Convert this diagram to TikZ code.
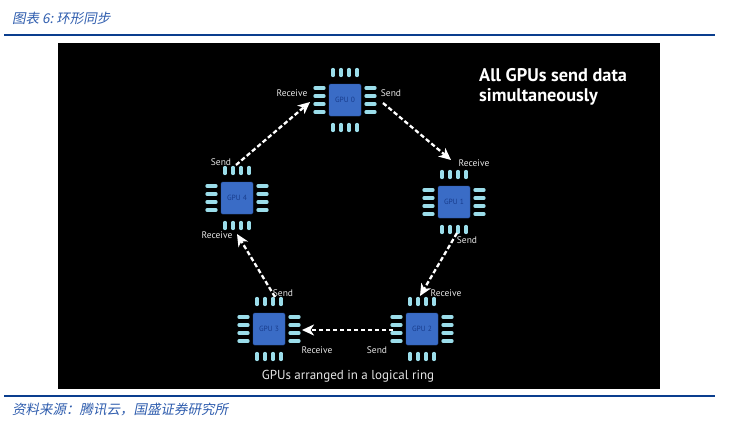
\documentclass[tikz,border=0pt]{standalone}
\usepackage{fontspec}
\setmainfont{PT Sans}
\newfontfamily\cjk[FakeSlant=0.2]{Noto Sans CJK SC}
\usepackage{tikz}
\usetikzlibrary{arrows.meta}
\pgfdeclarelayer{background}
\pgfdeclarelayer{foreground}
\pgfsetlayers{background,main,foreground}
\definecolor{hdline}{HTML}{0A3E8E}
\definecolor{hdtext}{HTML}{2F5DAE}
\definecolor{chipblue}{HTML}{3A6CC6}
\definecolor{chipedge}{HTML}{2B56A6}
\definecolor{chiptext}{HTML}{183C8C}
\definecolor{pincyan}{HTML}{9BDDEA}
\definecolor{lbltext}{HTML}{E6E6E6}

\begin{document}
\begin{tikzpicture}[x=1pt,y=-1pt,
  chip/.style={draw=chipedge,fill=chipblue,rounded corners=1.5pt,minimum size=32pt,inner sep=0pt,text=chiptext,font=\fontsize{7.5}{8}\selectfont},
  pin/.style={draw=pincyan,line width=3.3pt,line cap=round},
  lbl/.style={text=lbltext,inner sep=0pt,font=\fontsize{9.5}{10}\selectfont},
  ring/.style={draw=white,line width=2.3pt,dash pattern=on 4.5pt off 2.5pt,-{Stealth[length=12pt,width=11pt,inset=3.5pt]}}]
\useasboundingbox (0,0) rectangle (740,424);
\begin{pgfonlayer}{background}
\fill[white] (0,0) rectangle (740,424);
\fill[black] (58,43) rectangle (660,389);
\end{pgfonlayer}
\node[anchor=west,inner sep=0pt,text=hdtext,font=\cjk\fontsize{13.5}{14}\selectfont] (title) at (12,18) {图表 6:\ 环形同步};
\draw[hdline,line width=2.6pt] (4,35) -- (715,35);
\draw[hdline,line width=2.6pt] (4,396) -- (715,396);
\node[anchor=west,inner sep=0pt,text=hdtext,font=\cjk\fontsize{13.5}{14}\selectfont] (source) at (12,409) {资料来源：腾讯云，国盛证券研究所};
\foreach \c/\x/\y in {0/345/100,1/454/202,2/422/329,3/269/329,4/237/198} {
  \node[chip] (gpu\c) at (\x,\y) {GPU \c};
  \foreach \o in {-12,-4,4,12} {
    \draw[pin] ([shift={(\o,-30.5)}]gpu\c.center) -- ++(0,6);
    \draw[pin] ([shift={(\o,24.5)}]gpu\c.center) -- ++(0,6);
    \draw[pin] ([shift={(-30,\o)}]gpu\c.center) -- ++(9,0);
    \draw[pin] ([shift={(21,\o)}]gpu\c.center) -- ++(9,0);
  }
}
\node[lbl] (recv0) at (292,93) {Receive};
\node[lbl] (send0) at (391,93) {Send};
\node[lbl] (recv1) at (474,163) {Receive};
\node[lbl] (send1) at (467,240) {Send};
\node[lbl] (recv2) at (446,293) {Receive};
\node[lbl] (send2) at (377,350) {Send};
\node[lbl] (recv3) at (317,350) {Receive};
\node[lbl] (send3) at (283,293) {Send};
\node[lbl] (recv4) at (217,235) {Receive};
\node[lbl] (send4) at (221,162) {Send};
\node[anchor=west,align=left,inner sep=0pt,text=white,font=\bfseries\fontsize{18.3}{19.5}\selectfont] (claim) at (479,87) {All GPUs send data\\simultaneously};
\node[text=lbltext,inner sep=0pt,font=\fontsize{13}{14}\selectfont] (caption) at (348,376) {GPUs arranged in a logical ring};
\coordinate (out4) at (236,165);
\coordinate (in0) at (310,102);
\coordinate (out0) at (383,103);
\coordinate (in1) at (451,160);
\coordinate (out1) at (457,233);
\coordinate (in2) at (420,296);
\coordinate (out2) at (393,330);
\coordinate (in3) at (302,330);
\coordinate (out3) at (275,297);
\coordinate (in4) at (237,234);
\begin{pgfonlayer}{foreground}
\draw[ring] (out4) -- (in0);
\draw[ring] (out0) -- (in1);
\draw[ring] (out1) -- (in2);
\draw[ring] (out2) -- (in3);
\draw[ring] (out3) -- (in4);
\end{pgfonlayer}
\end{tikzpicture}
\end{document}
